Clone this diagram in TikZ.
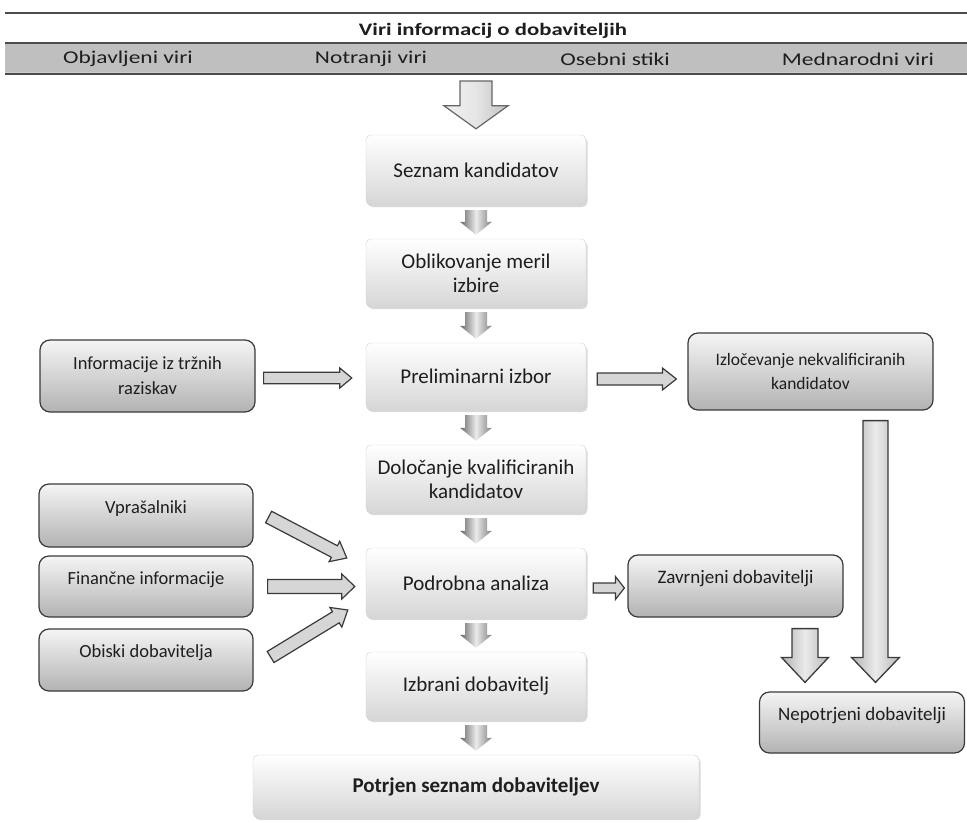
\documentclass[tikz,border=0pt]{standalone}
\usepackage{fontspec}
\setmainfont{Carlito}
\newfontfamily\hdrfont{Carlito}[FakeStretch=1.3]
\usetikzlibrary{calc,shadows}
\definecolor{txt}{HTML}{1E1E1E}
\definecolor{edge}{HTML}{3A3A3A}
\newcommand\blockarr[6][]{%
  \coordinate (baS) at (#2);
  \coordinate (baE) at (#3);
  \coordinate (baH) at ($(baE)!#6!(baS)$);
  \path[#1] ($(baS)!#4!90:(baE)$) -- ($(baH)!#4!-90:(baS)$) -- ($(baH)!#5!-90:(baS)$)
     -- (baE) -- ($(baH)!#5!90:(baS)$) -- ($(baH)!#4!90:(baS)$) -- ($(baS)!#4!-90:(baE)$) -- cycle;
}
\tikzset{
  cbox/.style={draw=black!18, rounded corners=5pt, top color=white, bottom color=black!16,
    minimum width=220pt, align=center, text=txt, font=\fontsize{21}{24}\selectfont,
    drop shadow={opacity=0.3, shadow xshift=1.5pt, shadow yshift=-2pt}},
  sbox/.style={draw=edge, line width=1.2pt, rounded corners=10pt, top color=black!4,
    bottom color=black!30, align=center, text=txt, font=\fontsize{18.5}{25}\selectfont},
  toptext/.style={text height=14pt, text depth=19pt},
  hdr/.style={text=txt, inner sep=0pt},
  hline/.style={draw=black!70, line width=1.8pt},
  cflow/.style={left color=black!60, right color=black!50, middle color=black!8},
  bigarr/.style={draw=black!60, line width=1.2pt, left color=black!6, right color=black!24, middle color=black!10},
  sarr/.style={draw=edge, line width=1.2pt, fill=black!16},
  longarr/.style={draw=edge, line width=1.3pt, left color=black!30, right color=black!28, middle color=black!8},
}
\begin{document}
\begin{tikzpicture}[x=1pt,y=-1pt]
\useasboundingbox (0,0) rectangle (967,822);
% header
\draw[hline] (5,13) -- (967,13);
\node[hdr, font=\hdrfont\bfseries\fontsize{17.5}{20}\selectfont] (title) at (493,31) {Viri informacij o dobaviteljih};
\node[fill=black!25, minimum width=962pt, minimum height=31pt, inner sep=0pt, outer sep=0pt] (band) at (486,58.5) {};
\draw[hline] (band.north west) -- (band.north east);
\draw[hline] (band.south west) -- (band.south east);
\draw[white!80!black, line width=0.8pt] ([yshift=1.5pt]band.south west) -- ([yshift=1.5pt]band.south east);
\node[hdr, font=\hdrfont\fontsize{18}{20}\selectfont] (l1) at (128,59) {Objavljeni viri};
\node[hdr, font=\hdrfont\fontsize{18}{20}\selectfont] (l2) at (371,59) {Notranji viri};
\node[hdr, font=\hdrfont\fontsize{18}{20}\selectfont] (l3) at (615,59) {Osebni stiki};
\node[hdr, font=\hdrfont\fontsize{18}{20}\selectfont] (l4) at (858,59) {Mednarodni viri};
\coordinate (topin) at (476,81);
% central column
\node[cbox, minimum height=70pt] (sez) at (476,170) {Seznam kandidatov};
\node[cbox, minimum height=68pt] (obl) at (476,273) {Oblikovanje meril\\izbire};
\node[cbox, minimum height=67pt] (pre) at (476,376.5) {Preliminarni izbor};
\node[cbox, minimum height=68pt] (dol) at (476,479) {Določanje kvalificiranih\\kandidatov};
\node[cbox, minimum height=70pt] (pod) at (476,583) {Podrobna analiza};
\node[cbox, minimum height=68pt] (izb) at (476,686) {Izbrani dobavitelj};
\node[cbox, minimum width=446pt, minimum height=63pt, font=\bfseries\fontsize{21}{24}\selectfont] (pot) at (476,786.5) {Potrjen seznam dobaviteljev};
% side boxes
\node[sbox, minimum width=215pt, minimum height=72pt] (inf) at (147.5,376) {Informacije iz tržnih\\raziskav};
\node[sbox, minimum width=245pt, minimum height=77pt, font=\fontsize{17.5}{24}\selectfont] (izl) at (810.5,371.5) {Izločevanje nekvalificiranih\\kandidatov};
\node[sbox, toptext, minimum width=214pt, minimum height=63pt] (vpr) at (146,515.5) {Vprašalniki};
\node[sbox, toptext, minimum width=214pt, minimum height=61pt] (fin) at (146,586.5) {Finančne informacije};
\node[sbox, toptext, minimum width=214pt, minimum height=62pt] (obi) at (146,660) {Obiski dobavitelja};
\node[sbox, toptext, minimum width=215pt, minimum height=62pt, font=\fontsize{19}{22}\selectfont] (zav) at (735.5,586) {Zavrnjeni dobavitelji};
\node[sbox, toptext, minimum width=205pt, minimum height=61pt, font=\fontsize{19}{22}\selectfont] (nep) at (862,722.5) {Nepotrjeni dobavitelji};
% central flow arrows
\blockarr[bigarr]{topin}{[yshift=6pt]sez.north}{16pt}{32pt}{23pt}
\blockarr[cflow]{[yshift=-5pt]sez.south}{[yshift=4pt]obl.north}{11pt}{16pt}{13pt}
\blockarr[cflow]{[yshift=-5pt]obl.south}{[yshift=4pt]pre.north}{11pt}{16pt}{13pt}
\blockarr[cflow]{[yshift=-5pt]pre.south}{[yshift=4pt]dol.north}{11pt}{16pt}{13pt}
\blockarr[cflow]{[yshift=-5pt]dol.south}{[yshift=4pt]pod.north}{11pt}{16pt}{13pt}
\blockarr[cflow]{[yshift=-5pt]pod.south}{[yshift=4pt]izb.north}{11pt}{16pt}{13pt}
\blockarr[cflow]{[yshift=-5pt]izb.south}{[yshift=4pt]pot.north}{11pt}{16pt}{13pt}
% side arrows
\blockarr[sarr]{$(inf.east)+(8,2)$}{$(pre.west)+(-14,1.5)$}{5.7pt}{10pt}{12pt}
\blockarr[sarr]{$(pre.east)+(11,2.5)$}{$(pre.east -| izl.west)+(-11,2.5)$}{6pt}{11pt}{14pt}
\blockarr[sarr]{$(vpr.east)+(15,1.5)$}{$(pod.west)+(-19,-25)$}{6.5pt}{11.5pt}{14pt}
\blockarr[sarr]{$(fin.east)+(14,0)$}{$(fin.east -| pod.west)+(-11,0)$}{7pt}{12.5pt}{13pt}
\blockarr[sarr]{$(obi.east)+(17,-3)$}{$(pod.west)+(-18,27)$}{6.5pt}{11.5pt}{14pt}
\blockarr[sarr]{$(pod.east)+(7,5)$}{$(zav.west)+(-3,2)$}{5pt}{11.5pt}{9pt}
% right long arrows
\blockarr[longarr]{$(izl.south)+(65,10)$}{$(nep.north)+(13.5,-9)$}{12.5pt}{24pt}{25pt}
\blockarr[longarr]{$(zav.south)+(69.5,11)$}{$(nep.north)+(-57,-9)$}{13pt}{23.5pt}{25pt}
\end{tikzpicture}
\end{document}
